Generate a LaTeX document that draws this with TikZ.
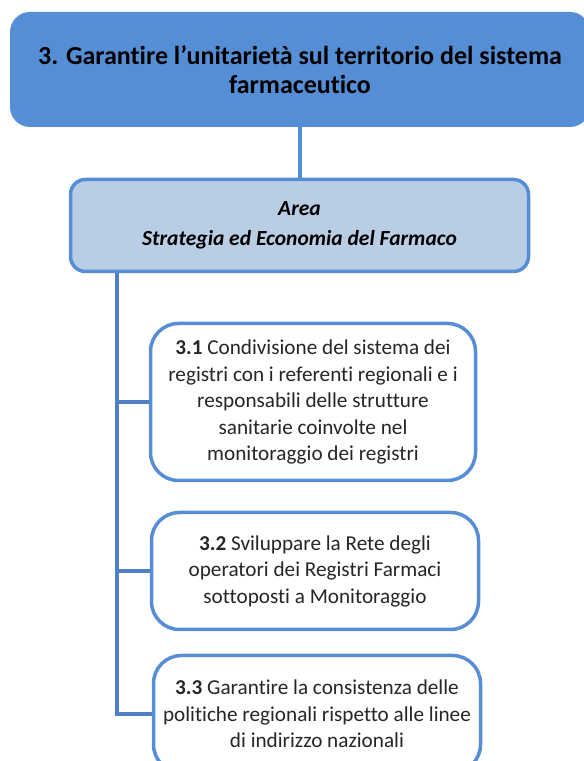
\documentclass[tikz,border=0pt]{standalone}
\usepackage{fontspec}
\setmainfont{Carlito}[Ligatures=NoCommon]
\usetikzlibrary{positioning}
\definecolor{goalblue}{HTML}{558ED5}
\definecolor{areablue}{HTML}{B9CDE5}
\definecolor{trunkblue}{HTML}{4F7FC4}
\definecolor{txtgrey}{HTML}{262626}
\tikzset{
  goalbox/.style={fill=goalblue,rounded corners=20pt,minimum width=580pt,minimum height=115pt,
    align=center,font=\bfseries\fontsize{26}{28.5}\selectfont,text=black},
  areabox/.style={draw=goalblue,fill=areablue,line width=3.5pt,rounded corners=15pt,
    minimum width=458pt,minimum height=92pt,align=center,
    font=\bfseries\itshape\fontsize{21.5}{30}\selectfont,text=black},
  taskbox/.style={draw=goalblue,fill=white,line width=3.5pt,rounded corners=28pt,
    align=center,font=\fontsize{21.2}{26.5}\selectfont,text=txtgrey},
  link/.style={goalblue,line width=4.5pt},
  branch/.style={trunkblue,line width=3.5pt}
}
\begin{document}
\begin{tikzpicture}[x=1pt,y=1pt]
  \useasboundingbox (0,0) rectangle (584,761);
  % goal and area
  \node[goalbox] (goal) at (300,691.5) {3. Garantire l’unitarietà sul territorio del sistema\\farmaceutico};
  \node[areabox] (area) at (299.5,535.5) {Area\\Strategia ed Economia del Farmaco};
  % objectives
  \node[taskbox,minimum width=325pt,minimum height=157pt] (obj1) at (313,359)
    {\textbf{3.1} Condivisione del sistema dei\\registri con i referenti regionali e i\\responsabili delle strutture\\sanitarie coinvolte nel\\monitoraggio dei registri};
  \node[taskbox,minimum width=327pt,minimum height=117pt] (obj2) at (315,190)
    {\textbf{3.2} Sviluppare la Rete degli\\operatori dei Registri Farmaci\\sottoposti a Monitoraggio};
  \node[taskbox,minimum width=327pt,minimum height=117pt] (obj3) at (317,47)
    {\textbf{3.3} Garantire la consistenza delle\\politiche regionali rispetto alle linee\\di indirizzo nazionali};
  % connectors
  \coordinate (trunk) at ([xshift=48pt]area.south west);
  \draw[link] (goal.south) -- (goal.south |- area.north);
  \draw[branch] (trunk) |- (obj1.west);
  \draw[branch] (trunk) |- (obj2.west);
  \draw[branch] (trunk) |- (obj3.west);
\end{tikzpicture}
\end{document}
